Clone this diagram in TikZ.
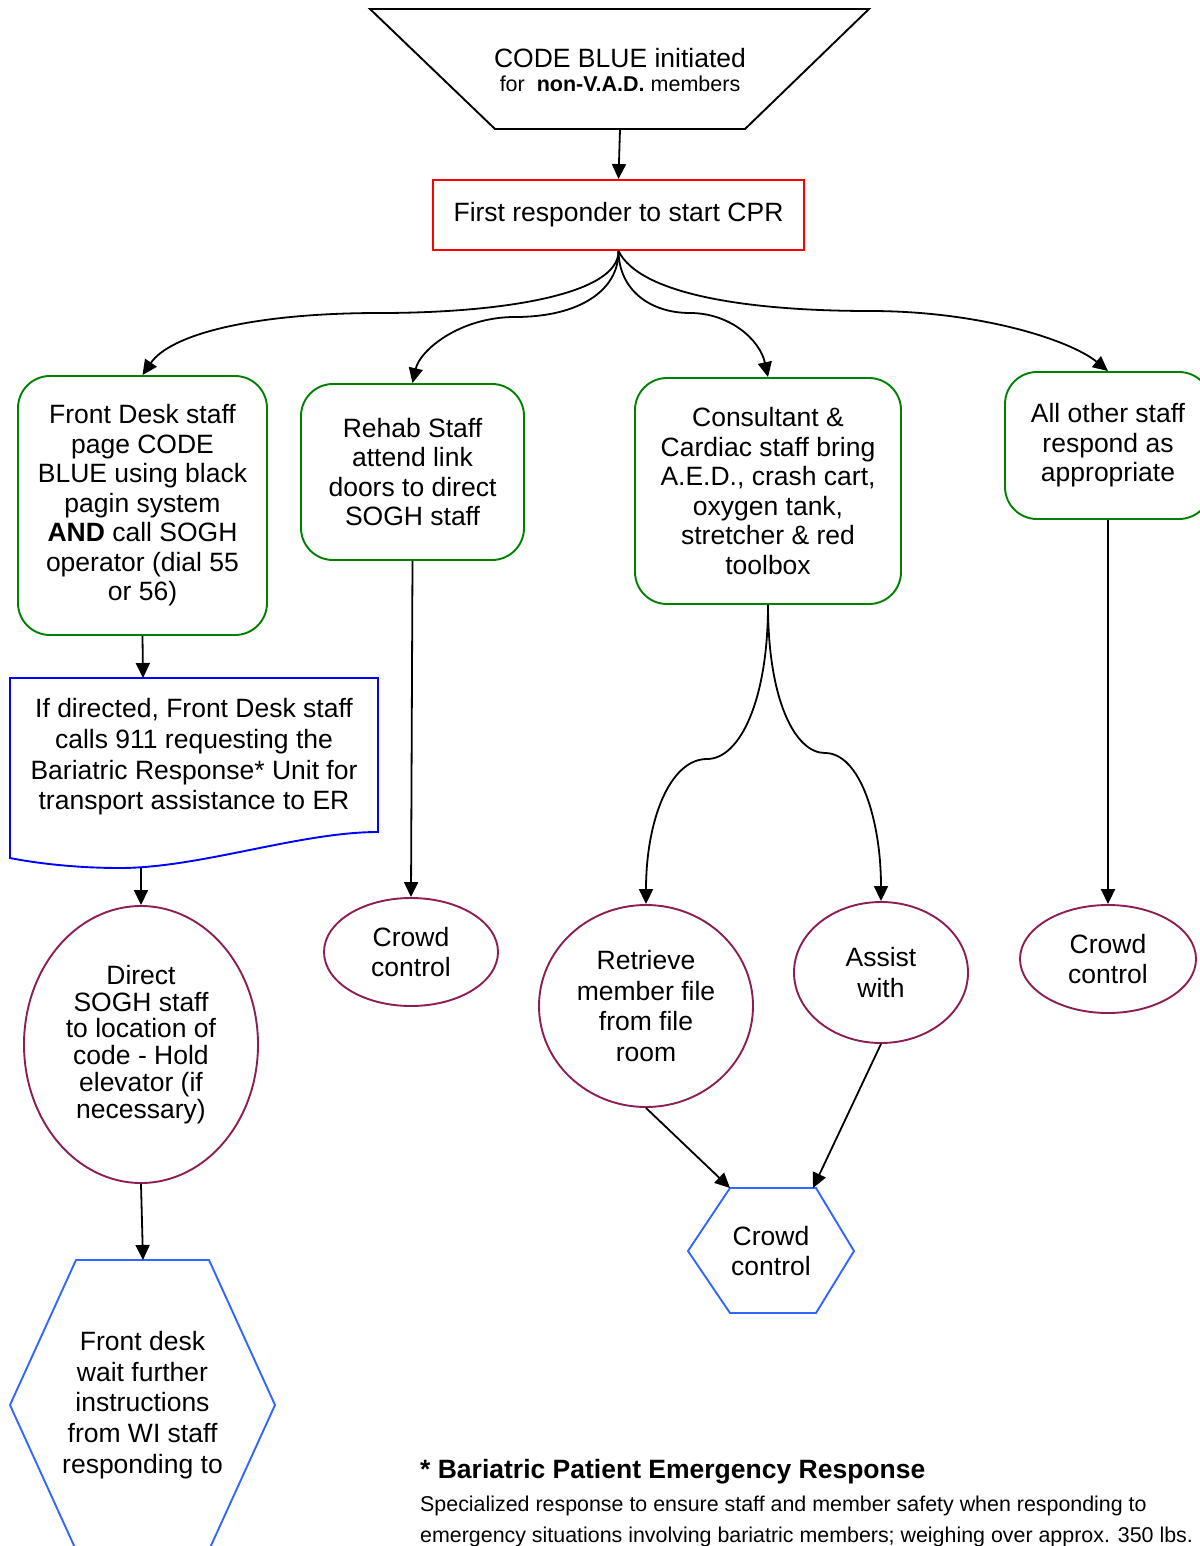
\documentclass[tikz,border=0pt]{standalone}
\usepackage{fontspec}
\setmainfont{Liberation Sans}
\usetikzlibrary{arrows.meta,shapes.geometric}
\definecolor{grn}{RGB}{0,128,0}
\definecolor{mar}{RGB}{140,30,85}
\definecolor{hexblue}{RGB}{51,102,255}
\definecolor{docblue}{RGB}{0,0,255}
\definecolor{cprred}{RGB}{255,0,0}
\tikzset{
  box/.style={draw=grn, line width=1.9pt, rounded corners=32pt, align=center, inner sep=0pt},
  ell/.style={ellipse, draw=mar, line width=1.9pt, align=center, inner sep=0pt},
  arr/.style={-{Triangle[length=15pt,width=14pt]}, line width=1.8pt},
  txt/.style={align=center, inner sep=0pt},
  blueline/.style={line width=1.9pt, line join=miter},
}
\begin{document}
\begin{tikzpicture}[x=1pt,y=-1pt,font=\fontsize{26.5}{29.5}\selectfont]
\useasboundingbox (0,0) rectangle (1199,1546);
% top trapezoid
\draw[line width=1.9pt] (370,9) -- (869,9) -- (745,129) -- (495,129) -- cycle;
\node[txt, minimum width=250pt, minimum height=120pt] (top) at (620,69) {};
\node[txt] (toptext) at (620,70) {CODE BLUE initiated\\[-6pt]{\fontsize{21.5}{24}\selectfont for\ \ \textbf{non-V.A.D.} members}};
% CPR box
\node[draw=cprred, line width=1.9pt, minimum width=371pt, minimum height=70pt, inner sep=0pt] (cpr) at (618.5,215) {First responder to start CPR};
% level 2 boxes
\node[box, minimum width=249pt, minimum height=259pt] (fd) at (142.5,505.5) {Front Desk staff\\page CODE\\BLUE using black\\pagin system\\\textbf{AND} call SOGH\\operator (dial 55\\or 56)};
\node[box, minimum width=223pt, minimum height=176pt] (rehab) at (412.5,472) {Rehab Staff\\attend link\\doors to direct\\SOGH staff};
\node[box, minimum width=266pt, minimum height=226pt] (cons) at (768,491) {Consultant \&\\Cardiac staff bring\\A.E.D., crash cart,\\oxygen tank,\\stretcher \& red\\toolbox};
\node[box, minimum width=206pt, minimum height=147pt] (other) at (1108,445.5) {All other staff\\respond as\\appropriate};
% document shape
\draw[docblue, blueline] (10,678) -- (378,678) -- (378,832) .. controls (300,832) and (200,868) .. (120,868) .. controls (70,868) and (30,862) .. (10,858) -- cycle;
\coordinate (doctop) at (143,678);
\coordinate (docbot) at (141,868);
\node[txt, font=\fontsize{26.5}{30.7}\selectfont] (doctext) at (194,757) {If directed, Front Desk staff\\calls 911 requesting the\\Bariatric Response* Unit for\\transport assistance to ER};
% ellipses
\node[ell, minimum width=234pt, minimum height=277pt, font=\fontsize{26.5}{26.8}\selectfont] (direct) at (141,1044.5) {Direct\\SOGH staff\\to location of\\code - Hold\\elevator (if\\necessary)};
\node[ell, minimum width=174pt, minimum height=108pt] (crowd1) at (411,952) {Crowd\\control};
\node[ell, minimum width=214pt, minimum height=202pt, font=\fontsize{26.5}{30.7}\selectfont] (retr) at (646,1006) {Retrieve\\member file\\from file\\room};
\node[ell, minimum width=174pt, minimum height=141pt, font=\fontsize{26.5}{31}\selectfont] (assist) at (881,972.5) {Assist\\with};
\node[ell, minimum width=176pt, minimum height=108pt] (crowd3) at (1108,959) {Crowd\\control};
% big hexagon
\draw[hexblue, blueline] (76,1260) -- (209,1260) -- (275,1405) -- (209,1550) -- (76,1550) -- (10,1405) -- cycle;
\node[txt, font=\fontsize{26.5}{30.8}\selectfont] (hexbig) at (142.5,1405) {Front desk\\wait further\\instructions\\from WI staff\\responding to};
\coordinate (hexbigtop) at (143,1260);
% small hexagon
\draw[hexblue, blueline] (730,1188) -- (816,1188) -- (854,1251) -- (816,1313) -- (730,1313) -- (688,1251) -- cycle;
\node[txt] (hexsmall) at (771,1251) {Crowd\\control};
\coordinate (hsL) at (730,1188);
\coordinate (hsR) at (813,1188);
% footnote
\node[anchor=base west, inner sep=0pt, font=\fontsize{26.5}{30}\selectfont\bfseries] (fnhead) at (420,1478) {* Bariatric Patient Emergency Response};
\node[anchor=base west, inner sep=0pt, font=\fontsize{21.4}{31}\selectfont] (fnbody1) at (420,1511) {Specialized response to ensure staff and member safety when responding to};
\node[anchor=base west, inner sep=0pt, font=\fontsize{21.4}{31}\selectfont] (fnbody2) at (420,1542) {emergency situations involving bariatric members; weighing over approx. 350 lbs.};
% connectors
\draw[arr] (top.south) -- (cpr.north);
\draw[arr] (cpr.south) .. controls (619,295) and (500,313) .. (380,313) .. controls (250,313) and (170,335) .. (fd.north);
\draw[arr] (cpr.south) .. controls (619,290) and (580,317) .. (515,317) .. controls (460,317) and (420,350) .. (rehab.north);
\draw[arr] (cpr.south) .. controls (619,290) and (650,313) .. (690,313) .. controls (730,313) and (760,340) .. (cons.north);
\draw[arr] (cpr.south) .. controls (640,295) and (750,311) .. (870,311) .. controls (980,311) and (1070,340) .. (other.north);
\draw[arr] (fd.south) -- (doctop);
\draw[arr] (docbot) -- (direct.north);
\draw[arr] (direct.south) -- (hexbigtop);
\draw[arr] (rehab.south) -- (crowd1.north);
\draw[arr] (other.south) -- (crowd3.north);
\draw[arr] (cons.south) .. controls (768,700) and (740,759) .. (707,759) .. controls (670,759) and (646,820) .. (retr.north);
\draw[arr] (cons.south) .. controls (768,700) and (795,753) .. (825,753) .. controls (860,753) and (881,820) .. (assist.north);
\draw[arr] (retr.south) -- (hsL);
\draw[arr] (assist.south) -- (hsR);
\end{tikzpicture}
\end{document}
